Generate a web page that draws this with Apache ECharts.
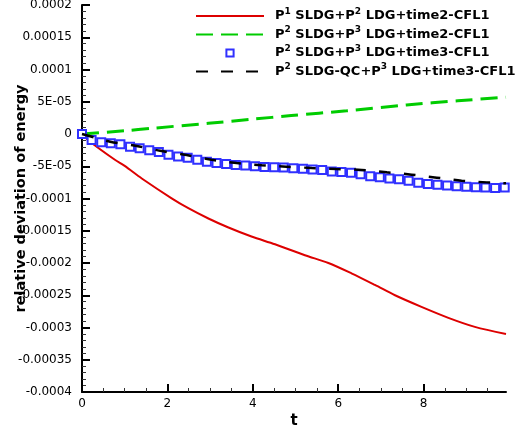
<!DOCTYPE html>
<html><head><meta charset="utf-8">
<script src="https://cdn.jsdelivr.net/npm/echarts@6/dist/echarts.min.js"></script>
<style>html,body{margin:0;padding:0;background:#fff}#c{width:518px;height:429px}</style>
</head><body><div id="c"></div>
<script>
// ---------- data ----------
const seriesNames = [
  'P1 SLDG+P2 LDG+time2-CFL1',
  'P2 SLDG+P3 LDG+time2-CFL1',
  'P2 SLDG+P3 LDG+time3-CFL1',
  'P2 SLDG-QC+P3 LDG+time3-CFL1'
];
const legendRich = [
  '{b|P}{s|1}{b| SLDG+P}{s|2}{b| LDG+time2-CFL1}',
  '{b|P}{s|2}{b| SLDG+P}{s|3}{b| LDG+time2-CFL1}',
  '{b|P}{s|2}{b| SLDG+P}{s|3}{b| LDG+time3-CFL1}',
  '{b|P}{s|2}{b| SLDG-QC+P}{s|3}{b| LDG+time3-CFL1}'
];

const tRed = [0, 0.19, 0.77, 1.0, 1.40, 2.10, 2.49, 2.96, 3.43, 3.97, 4.52, 5.22, 5.77, 6.31, 6.86, 7.33, 7.95, 8.58, 9.20, 9.93];
const vRed = [0, -1.2e-5, -4.0e-5, -4.95e-5, -6.9e-5, -9.97e-5, -11.5e-5, -13.1e-5, -14.5e-5, -15.9e-5, -17.1e-5, -18.8e-5, -20.0e-5, -21.6e-5, -23.4e-5, -25.0e-5, -26.8e-5, -28.5e-5, -29.9e-5, -31.0e-5];

const tGreen = [0, 1.0, 1.63, 2.96, 4.0, 4.9, 6.2, 7.6, 8.8, 9.93];
const vGreen = [0, 0.5e-5, 0.88e-5, 1.66e-5, 2.3e-5, 2.85e-5, 3.6e-5, 4.5e-5, 5.15e-5, 5.7e-5];

const tBlue = [0, 0.225, 0.45, 0.675, 0.9, 1.125, 1.35, 1.575, 1.8, 2.025, 2.25, 2.475, 2.7, 2.925, 3.15, 3.375, 3.6, 3.825, 4.05, 4.275, 4.5, 4.725, 4.95, 5.175, 5.4, 5.625, 5.85, 6.075, 6.3, 6.525, 6.75, 6.975, 7.2, 7.425, 7.65, 7.875, 8.1, 8.325, 8.55, 8.775, 9.0, 9.225, 9.45, 9.675, 9.9];
const vBlue = [0, -0.93e-5, -1.29e-5, -1.45e-5, -1.6e-5, -1.96e-5, -2.2e-5, -2.5e-5, -2.8e-5, -3.2e-5, -3.5e-5, -3.7e-5, -4.0e-5, -4.3e-5, -4.5e-5, -4.65e-5, -4.8e-5, -4.9e-5, -5.0e-5, -5.1e-5, -5.17e-5, -5.2e-5, -5.3e-5, -5.4e-5, -5.5e-5, -5.6e-5, -5.8e-5, -5.9e-5, -6.0e-5, -6.25e-5, -6.56e-5, -6.7e-5, -6.9e-5, -7.0e-5, -7.24e-5, -7.55e-5, -7.75e-5, -7.86e-5, -8.0e-5, -8.1e-5, -8.17e-5, -8.26e-5, -8.3e-5, -8.37e-5, -8.3e-5];

const tBlack = [0, 0.66, 1.28, 1.83, 2.45, 3.04, 3.62, 4.21, 4.79, 5.38, 5.96, 6.55, 7.14, 7.72, 8.31, 8.89, 9.48, 9.93];
const vBlack = [0, -1.19e-5, -1.86e-5, -2.6e-5, -3.26e-5, -4.0e-5, -4.5e-5, -4.85e-5, -5.07e-5, -5.27e-5, -5.43e-5, -5.58e-5, -5.94e-5, -6.3e-5, -6.77e-5, -7.24e-5, -7.5e-5, -7.65e-5];

const xMajorTicks = [0, 2, 4, 6, 8];
const xMajorLabels = ['0', '2', '4', '6', '8'];
const xMinorTicks = [0.5, 1, 1.5, 2.5, 3, 3.5, 4.5, 5, 5.5, 6.5, 7, 7.5, 8.5, 9, 9.5];
const yTickLabels = ['-0.0004', '-0.00035', '-0.0003', '-0.00025', '-0.0002', '-0.00015', '-0.0001', '-5E-05', '0', '5E-05', '0.0001', '0.00015', '0.0002'];

// ---------- chart ----------
const FONT = "'DejaVu Sans', 'Liberation Sans', Arial, sans-serif";
const zip = (a, b) => a.map((x, i) => [x, b[i]]);
const yMin = -0.0004, yMax = 0.0002, yInt = 0.00005;

const chart = echarts.init(document.getElementById('c'), null, { renderer: 'canvas' });
chart.setOption({
  animation: false,
  backgroundColor: '#fff',
  grid: { left: 82, right: 12, top: 5, bottom: 37, outerBoundsMode: 'none', containLabel: false },
  legend: {
    orient: 'vertical',
    left: 190,
    top: 2,
    itemWidth: 68,
    itemHeight: 9,
    itemGap: 3,
    data: [
      { name: seriesNames[0], itemStyle: { opacity: 0 } },
      { name: seriesNames[1], itemStyle: { opacity: 0 } },
      { name: seriesNames[2] },
      { name: seriesNames[3], itemStyle: { opacity: 0 } }
    ],
    formatter: name => legendRich[seriesNames.indexOf(name)],
    textStyle: {
      padding: [0, 0, 0, 6],
      rich: {
        b: { fontFamily: FONT, fontSize: 13, fontWeight: 'bold', color: '#000', lineHeight: 18 },
        s: { fontFamily: FONT, fontSize: 9, fontWeight: 'bold', color: '#000', lineHeight: 6, verticalAlign: 'top' }
      }
    }
  },
  xAxis: [{
    type: 'value', min: 0, max: 9.93, interval: 2,
    name: 't', nameLocation: 'middle', nameGap: 22, nameMoveOverlap: false,
    nameTextStyle: { fontFamily: FONT, fontSize: 15, fontWeight: 'bold', color: '#000' },
    axisLine: { show: true, onZero: false, lineStyle: { color: '#000', width: 2 } },
    axisTick: { show: true, inside: true, length: 8, lineStyle: { color: '#000', width: 2 }, customValues: xMajorTicks },
    axisLabel: { show: true, margin: 6, fontFamily: FONT, fontSize: 12, color: '#000', customValues: xMajorTicks,
      formatter: v => { const i = xMajorTicks.indexOf(Math.round(v)); return i >= 0 ? xMajorLabels[i] : ''; } },
    splitLine: { show: false }
  }, {
    type: 'value', min: 0, max: 9.93, position: 'bottom',
    axisLine: { show: false, onZero: false },
    axisTick: { show: true, inside: true, length: 4, lineStyle: { color: '#333', width: 1 }, customValues: xMinorTicks },
    axisLabel: { show: false },
    splitLine: { show: false }
  }],
  yAxis: {
    type: 'value', min: yMin, max: yMax, interval: yInt,
    name: 'relative deviation of energy', nameLocation: 'middle', nameGap: 53, nameRotate: 90, nameMoveOverlap: false,
    nameTextStyle: { fontFamily: FONT, fontSize: 14.5, fontWeight: 'bold', color: '#000' },
    axisLine: { show: true, onZero: false, lineStyle: { color: '#000', width: 2 } },
    axisTick: { show: true, inside: true, length: 8, lineStyle: { color: '#000', width: 2 } },
    minorTick: { show: true, splitNumber: 5, length: 4, lineStyle: { color: '#333', width: 1 } },
    axisLabel: { margin: 10, fontFamily: FONT, fontSize: 12, color: '#000',
      formatter: v => yTickLabels[Math.round((v - yMin) / yInt)] },
    splitLine: { show: false }
  },
  series: [
    { name: seriesNames[0], type: 'line', data: zip(tRed, vRed), symbol: 'none', smooth: 0.3,
      color: '#dd0000', lineStyle: { color: '#dd0000', width: 2 } },
    { name: seriesNames[1], type: 'line', data: zip(tGreen, vGreen), symbol: 'none', smooth: 0.3,
      color: '#00cc00', lineStyle: { color: '#00cc00', width: 3, type: [17, 8] } },
    { name: seriesNames[2], type: 'line', data: zip(tBlue, vBlue), symbol: 'emptyRect', symbolSize: 8, clip: false,
      showAllSymbol: true, color: '#3030ff', lineStyle: { width: 0 }, itemStyle: { color: '#3030ff', borderWidth: 1.5 } },
    { name: seriesNames[3], type: 'line', data: zip(tBlack, vBlack), symbol: 'none', smooth: 0.3, z: 5,
      color: '#000', lineStyle: { color: '#000', width: 2.5, type: [12, 13] } }
  ]
});
</script>
</body></html>
